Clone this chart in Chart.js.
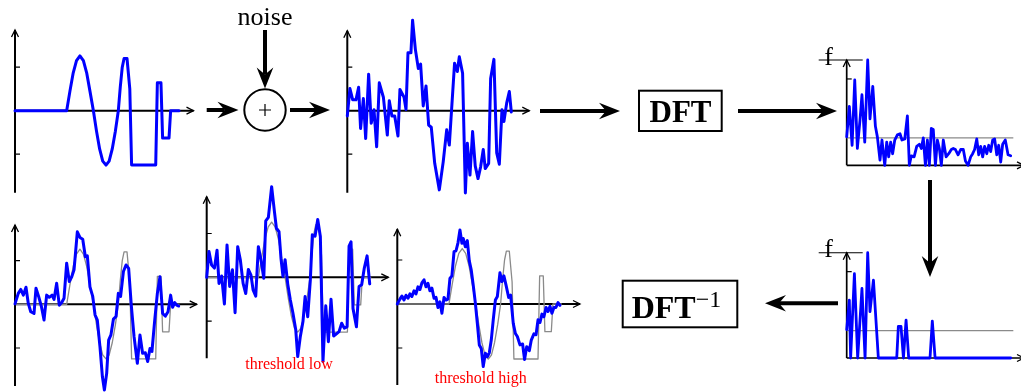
<!DOCTYPE html>
<html>
<head>
<meta charset="utf-8">
<script src="https://cdn.jsdelivr.net/npm/chart.js@4.4.1/dist/chart.umd.min.js"></script>
<style>
  body { margin: 0; background: #fff; width: 1021px; height: 392px; overflow: hidden; position: relative; }
  canvas.plot { position: absolute; }
  #diagram { position: absolute; left: 0; top: 0; }
</style>
</head>
<body>
<svg id="diagram" width="1021" height="392"></svg>
<script>
// --- data: [time, amplitude] pairs ---
const cleanSignal = [[0,0],[.315,0],[.335,.45],[.355,.87],[.375,1.15],[.396,1.26],[.417,1.15],[.437,.87],[.457,.45],[.478,0],
  [.497,-.47],[.516,-.88],[.535,-1.16],[.555,-1.25],[.574,-1.16],[.593,-.88],[.612,-.47],[.630,0],[.642,.55],[.654,1.0],
  [.665,1.2],[.683,1.2],[.700,.5],[.711,-1.25],[.858,-1.25],[.868,.64],[.890,.64],[.900,-.63],[.939,-.63],[.949,0],[1.0,0]];

const noisySignal = [[0,-.12],[.016,.51],[.033,.25],[.053,.25],[.069,.54],[.081,-.41],[.098,.28],[.112,-.64],[.130,.84],[.146,-.29],
  [.163,.02],[.179,-.83],[.195,.64],[.220,.31],[.244,-.56],[.256,.23],[.272,-.12],[.289,-.12],[.309,-.58],[.321,.49],
  [.346,.31],[.358,.03],[.370,1.33],[.388,1.33],[.398,2.08],[.415,1.41],[.433,.97],[.447,1.07],[.463,.11],[.480,.57],
  [.496,-.33],[.512,-.38],[.533,-1.21],[.561,-1.82],[.585,-1.17],[.606,-.44],[.622,-.79],[.654,1.09],[.671,.90],[.683,1.24],
  [.703,.86],[.720,-1.89],[.732,-.75],[.748,-1.48],[.764,-.48],[.780,-1.27],[.797,-1.56],[.813,-1.29],[.829,-.89],[.841,-1.33],
  [.862,-1.21],[.874,.74],[.894,1.18],[.911,-.97],[.927,-1.23],[.943,.02],[.955,-.25],[.972,.18],[.988,.44],[1.0,-.03]];

const spectrum = [[0,.27],[.016,.56],[.033,.19],[.049,.81],[.065,.16],[.081,.43],[.093,.67],[.110,.22],[.128,1.0],[.142,.44],
  [.159,.75],[.175,.37],[.187,.27],[.203,.05],[.215,.24],[.232,0],[.244,.22],[.256,.08],[.268,.22],[.280,.11],
  [.293,.24],[.309,.29],[.325,.30],[.337,.24],[.354,.25],[.370,.47],[.382,0],[.394,.09],[.411,.08],[.427,.18],
  [.443,.20],[.455,.16],[.467,.26],[.480,0],[.492,.24],[.504,0],[.516,.35],[.528,.34],[.541,0],[.553,.24],
  [.565,.16],[.577,0],[.589,.24],[.606,.08],[.622,.11],[.638,.15],[.650,.16],[.663,.15],[.679,.10],[.695,.15],
  [.711,.15],[.724,.04],[.740,0],[.756,.08],[.768,.11],[.780,.15],[.793,.25],[.805,.10],[.817,.18],[.829,.08],
  [.841,.18],[.854,.11],[.866,.19],[.878,.13],[.890,.24],[.902,.25],[.915,.10],[.927,.19],[.939,.03],[.951,.20],
  [.967,.24],[.984,.10],[1.0,.09]];

const spectrumKept = [[0,.27],[.016,.55],[.024,0],[.047,.80],[.067,0],[.093,.66],[.112,0],[.128,1.0],[.142,.44],[.163,.74],
  [.193,0],[.305,0],[.315,.30],[.331,.30],[.346,0],[.362,.36],[.378,0],[.508,0],[.522,.35],[.539,0],[1.0,0]];

const threshold = 0.26;
const spectrumTick = 0.82;
const signalTicks = [1, -1];

const recAll = [[0,.01],[.020,.25],[.035,.34],[.051,.21],[.067,.39],[.081,.02],[.096,-.17],[.116,-.21],[.128,.37],[.144,.18],
  [.161,-.05],[.177,-.36],[.193,.21],[.209,.16],[.226,.21],[.238,.11],[.254,.48],[.270,-.02],[.285,.04],[.299,.14],
  [.315,.94],[.331,.52],[.346,.63],[.360,.79],[.380,1.66],[.396,1.53],[.413,1.49],[.429,1.09],[.441,1.11],[.457,.40],
  [.474,.18],[.488,-.24],[.502,-.36],[.518,-.97],[.533,-1.66],[.545,-1.96],[.559,-1.58],[.571,-.82],[.585,-.70],[.600,-.34],
  [.616,-.28],[.630,.25],[.644,.18],[.661,.75],[.677,.90],[.693,.82],[.709,-.02],[.726,-.74],[.746,-1.35],[.762,-.70],
  [.778,-1.12],[.795,-1.11],[.809,-1.31],[.823,-1.01],[.835,-1.08],[.852,-.36],[.868,.25],[.884,.63],[.900,-.21],[.917,-.27],
  [.933,-.17],[.949,.21],[.961,-.07],[.974,.04],[.986,-.02],[.998,-.04]];

const recLow = [[0,0],[.014,.59],[.030,.28],[.047,.21],[.063,.62],[.075,-.14],[.091,.03],[.108,-.61],[.124,.74],[.140,-.21],
  [.157,.17],[.173,-.81],[.189,.70],[.205,.40],[.222,-.14],[.238,-.37],[.254,.18],[.270,.05],[.283,-.29],[.299,-.43],
  [.315,.70],[.331,.40],[.348,-.02],[.360,1.29],[.376,1.37],[.396,2.07],[.413,1.50],[.425,1.12],[.441,1.04],[.453,.43],
  [.465,.02],[.478,.40],[.494,-.15],[.510,-.52],[.526,-.82],[.543,-1.20],[.555,-1.81],[.571,-1.35],[.587,-1.01],[.600,-.44],
  [.616,-.90],[.632,-.06],[.644,.97],[.661,.94],[.677,1.32],[.693,.93],[.709,-1.92],[.726,-.65],[.742,-1.47],[.758,-.50],
  [.774,-1.34],[.791,-1.29],[.807,-1.24],[.823,-1.05],[.839,-1.16],[.856,-1.13],[.868,.71],[.880,.81],[.892,-.71],[.913,-1.13],
  [.929,-.21],[.945,-.17],[.961,.21],[.978,.49],[.994,-.15]];

const recHigh = [[0,0],[.016,.11],[.028,.18],[.041,.09],[.053,.20],[.065,.13],[.077,.23],[.089,.17],[.102,.30],[.114,.23],
  [.126,.39],[.138,.33],[.150,.48],[.163,.55],[.175,.39],[.187,.47],[.199,.30],[.211,.36],[.224,.13],[.236,.15],
  [.248,-.08],[.260,.05],[.272,-.21],[.285,.15],[.297,.09],[.309,.11],[.321,.58],[.333,.64],[.346,1.19],[.358,1.21],
  [.370,1.39],[.382,1.68],[.394,1.38],[.402,1.49],[.415,1.30],[.427,1.44],[.439,.98],[.451,.77],[.463,.43],[.476,.02],
  [.488,-.44],[.500,-.93],[.512,-1.01],[.524,-1.42],[.537,-1.12],[.549,-1.20],[.561,-1.11],[.573,-.82],[.585,-.36],[.598,.09],
  [.610,.17],[.626,.71],[.638,.51],[.650,.64],[.663,.43],[.679,.15],[.691,.20],[.707,-.44],[.720,-.67],[.732,-.74],
  [.748,-.93],[.764,-.91],[.776,-1.26],[.789,-.97],[.805,-1.06],[.817,-.82],[.833,-.68],[.846,-.70],[.858,-.36],[.870,-.42],
  [.882,-.23],[.894,-.29],[.907,-.08],[.919,-.17],[.931,-.05],[.943,-.21],[.955,-.08],[.967,-.08],[.980,.03],[.992,-.03]];

const BLUE = '#0000ff';
const GREY = '#8a8a8a';
const T_UNIT = 164; // px per unit of time, same on every plot

const toPts = arr => arr.map(p => ({x: p[0], y: p[1]}));

// little arrows on the axes, ticks and the "f" marker
function arrowAxes(lw, ticks, label) {
  return {
    id: 'arrowAxes',
    beforeDatasetsDraw(chart) {
      const {ctx, chartArea: a, scales: {x, y}} = chart;
      const x0 = x.getPixelForValue(0), y0 = y.getPixelForValue(0);
      ctx.save();
      ctx.strokeStyle = '#000';
      ctx.lineWidth = lw;
      ctx.beginPath();
      ctx.moveTo(x0, a.bottom); ctx.lineTo(x0, a.top);
      ctx.moveTo(a.left, y0); ctx.lineTo(a.right, y0);
      ctx.stroke();
      ctx.lineWidth = 1.3;
      ctx.beginPath();
      ctx.moveTo(x0 - 3.5, a.top + 7); ctx.lineTo(x0, a.top); ctx.lineTo(x0 + 3.5, a.top + 7);
      ctx.moveTo(a.right - 7, y0 - 3.5); ctx.lineTo(a.right, y0); ctx.lineTo(a.right - 7, y0 + 3.5);
      ctx.stroke();
      ctx.lineWidth = 1.2;
      ctx.beginPath();
      ticks.forEach(v => {
        const py = y.getPixelForValue(v);
        ctx.moveTo(x0, py); ctx.lineTo(x0 + 5, py);
      });
      ctx.stroke();
      if (label) {
        const py = y.getPixelForValue(1);
        ctx.lineWidth = 1.1;
        ctx.beginPath();
        ctx.moveTo(x0 - 28, py); ctx.lineTo(x0 + 16, py);
        ctx.stroke();
        ctx.font = '26px "Liberation Serif"';
        ctx.fillStyle = '#000';
        ctx.textAlign = 'center';
        ctx.fillText(label, x0 - 18, py + 4.5);
      }
      ctx.restore();
    }
  };
}

function makePlot(g, datasets, opts) {
  const left = Math.floor(g.ox - 32), top = Math.floor(g.top - 18);
  const right = Math.ceil(g.xEnd + 10), bottom = Math.ceil(g.bottom + 12);
  const canvas = document.createElement('canvas');
  canvas.className = 'plot';
  canvas.width = right - left;
  canvas.height = bottom - top;
  canvas.style.left = left + 'px';
  canvas.style.top = top + 'px';
  document.body.insertBefore(canvas, document.getElementById('diagram'));

  new Chart(canvas.getContext('2d'), {
    type: 'line',
    data: {datasets: datasets},
    options: {
      responsive: false,
      animation: false,
      events: [],
      layout: {padding: {left: g.ox - left, right: right - g.xEnd, top: g.top - top, bottom: bottom - g.bottom}},
      plugins: {legend: {display: false}, tooltip: {enabled: false}, title: {display: false}},
      scales: {
        x: {type: 'linear', display: false, min: 0, max: (g.xEnd - g.ox) / T_UNIT},
        y: {type: 'linear', display: false, min: -(g.bottom - g.oy) / g.vUnit, max: (g.oy - g.top) / g.vUnit}
      }
    },
    plugins: [arrowAxes(opts.lw, opts.ticks, opts.label)]
  });
}

function line(data, color, width, order) {
  return {data: toPts(data), borderColor: color, borderWidth: width, pointRadius: 0, tension: 0,
          fill: false, clip: false, order: order, borderJoinStyle: 'round', borderCapStyle: 'round'};
}

function thresholdLine() {
  return {data: [{x: 0, y: threshold}, {x: 1.016, y: threshold}], borderColor: GREY, borderWidth: 1.2,
          pointRadius: 0, fill: false, clip: false, order: 1};
}

makePlot({ox: 15, oy: 110.7, top: 30, bottom: 192.7, xEnd: 193.5, vUnit: 43.5},
  [line(cleanSignal, BLUE, 3, 0)], {lw: 2, ticks: signalTicks});
makePlot({ox: 347.3, oy: 110.7, top: 30.7, bottom: 192.7, xEnd: 529.3, vUnit: 43.5},
  [line(noisySignal, BLUE, 3, 0)], {lw: 2, ticks: signalTicks});
makePlot({ox: 846.7, oy: 165.3, top: 60, bottom: 165.3, xEnd: 1024, vUnit: 105.3},
  [line(spectrum, BLUE, 2.8, 0), thresholdLine()], {lw: 1.7, ticks: [spectrumTick], label: 'f'});
makePlot({ox: 846.7, oy: 358, top: 252.7, bottom: 358, xEnd: 1024, vUnit: 105.3},
  [line(spectrumKept, BLUE, 2.8, 0), thresholdLine()], {lw: 1.7, ticks: [spectrumTick], label: 'f'});
makePlot({ox: 15, oy: 304.3, top: 225, bottom: 386, xEnd: 196.7, vUnit: 43.7},
  [line(recAll, BLUE, 3, 0), line(cleanSignal, GREY, 1.3, 1)], {lw: 2, ticks: signalTicks});
makePlot({ox: 206.7, oy: 277.3, top: 196.7, bottom: 358.3, xEnd: 388.3, vUnit: 43.8},
  [line(recLow, BLUE, 3, 0), line(cleanSignal, GREY, 1.3, 1)], {lw: 2, ticks: signalTicks});
makePlot({ox: 397.3, oy: 304, top: 229.3, bottom: 385, xEnd: 580, vUnit: 44},
  [line(recHigh, BLUE, 3, 0), line(cleanSignal, GREY, 1.3, 1)], {lw: 2, ticks: signalTicks});

// --- block diagram: arrows, adder, DFT boxes, captions ---
const svg = document.getElementById('diagram');
const NS = 'http://www.w3.org/2000/svg';
function add(tag, attrs, text) {
  const e = document.createElementNS(NS, tag);
  for (const k in attrs) e.setAttribute(k, attrs[k]);
  if (text) e.textContent = text;
  svg.appendChild(e);
  return e;
}
function bigArrow(x1, y1, x2, y2) {
  const len = Math.hypot(x2 - x1, y2 - y1), dx = (x2 - x1) / len, dy = (y2 - y1) / len;
  const px = -dy, py = dx, L = 21, W = 8.3, N = 14;
  add('line', {x1: x1, y1: y1, x2: x2 - dx * N, y2: y2 - dy * N, stroke: '#000', 'stroke-width': 4});
  const pts = [[x2, y2], [x2 - dx * L + px * W, y2 - dy * L + py * W], [x2 - dx * N, y2 - dy * N],
               [x2 - dx * L - px * W, y2 - dy * L - py * W]];
  add('polygon', {points: pts.map(p => p.join(',')).join(' '), fill: '#000'});
}

bigArrow(206.7, 110, 238.5, 110);
bigArrow(265, 30, 265, 88.5);
bigArrow(290, 110, 330, 110);
bigArrow(540, 111, 620, 111);
bigArrow(738, 111, 837, 111);
bigArrow(930, 180, 930, 277);
bigArrow(838, 303.3, 765, 303.3);

add('circle', {cx: 265, cy: 110, r: 20.7, fill: 'none', stroke: '#000', 'stroke-width': 2});
add('path', {d: 'M259 110 H271 M265 104 V116', stroke: '#000', 'stroke-width': 1.2});
add('text', {x: 265, y: 25, 'text-anchor': 'middle', 'font-family': 'Liberation Serif', 'font-size': 26}, 'noise');

add('rect', {x: 639, y: 90.7, width: 82.7, height: 40.3, fill: 'none', stroke: '#000', 'stroke-width': 2});
add('text', {x: 680.5, y: 122.3, 'text-anchor': 'middle', 'font-family': 'Liberation Serif', 'font-size': 31,
             'font-weight': 'bold'}, 'DFT');

add('rect', {x: 622.7, y: 280.7, width: 114.6, height: 46.6, fill: 'none', stroke: '#000', 'stroke-width': 2});
const inv = add('text', {x: 631.7, y: 318.3, 'font-family': 'Liberation Serif', 'font-size': 32, 'font-weight': 'bold'}, 'DFT');
const sup = document.createElementNS(NS, 'tspan');
sup.setAttribute('font-weight', 'normal');
sup.setAttribute('font-size', 24);
sup.setAttribute('dy', -11.3);
sup.textContent = '\u22121';
inv.appendChild(sup);

add('text', {x: 289, y: 369.3, 'text-anchor': 'middle', 'font-family': 'Liberation Serif', 'font-size': 16, fill: '#ff0000'}, 'threshold low');
add('text', {x: 480.7, y: 383.3, 'text-anchor': 'middle', 'font-family': 'Liberation Serif', 'font-size': 16, fill: '#ff0000'}, 'threshold high');
</script>
</body>
</html>
